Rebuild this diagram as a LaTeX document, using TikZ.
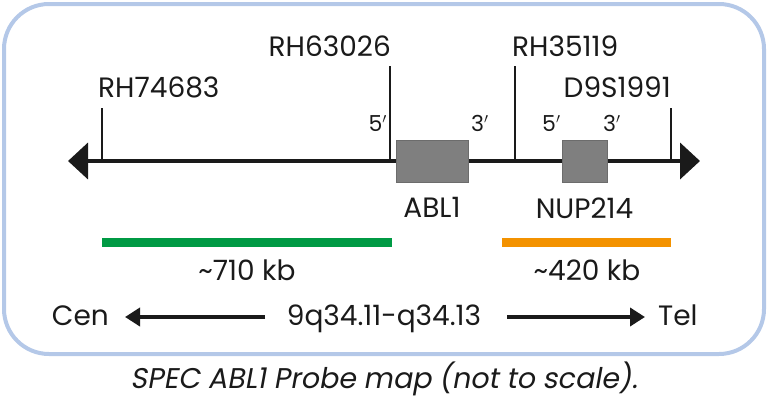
\documentclass[tikz,border=0pt]{standalone}
\usepackage{fontspec}
\setmainfont{Poppins}
\newfontfamily\capfont[FakeSlant=0.18]{Poppins}
\usetikzlibrary{arrows.meta,positioning}
\definecolor{frameblue}{HTML}{B4C8E8}
\definecolor{probegreen}{HTML}{009A44}
\definecolor{probeorange}{HTML}{F39200}
\definecolor{genegrey}{HTML}{7F7F7F}
\definecolor{ink}{HTML}{1A1A1A}

\begin{document}
\begin{tikzpicture}[x=1pt,y=-1pt,every node/.style={text=ink,inner sep=0pt},
  marker/.style={font=\fontsize{28}{28}\selectfont},
  prime/.style={font=\fontsize{22}{22}\selectfont},
  tick/.style={draw=ink,line width=2pt},
  gene/.style={draw=genegrey!85!black,fill=genegrey,minimum height=42pt},
  probe/.style={line width=9pt},
  axis/.style={draw=ink,line width=4pt,{Triangle[length=20pt,width=36pt]}-{Triangle[length=20pt,width=36pt]}},
  dirarrow/.style={draw=ink,line width=4pt,-{Triangle[length=15pt,width=18pt]}}]

\useasboundingbox (0,0) rectangle (768,402);
\draw[frameblue,line width=4pt,rounded corners=45pt] (4,4) rectangle (764,354);

% chromosome axis
\coordinate (cen) at (68,161);
\coordinate (tel) at (700,161);
\draw[axis] (cen) -- (tel);

% markers and their ticks
\node[marker,anchor=base west] (rh74683) at (98,97) {RH74683};
\node[marker,anchor=base east] (rh63026) at (391,56) {RH63026};
\node[marker,anchor=base west] (rh35119) at (512,56) {RH35119};
\node[marker,anchor=base east] (d9s1991) at (671,97) {D9S1991};
\coordinate (m1) at (102,108);
\coordinate (m2) at (390,66);
\coordinate (m3) at (515,66);
\coordinate (m4) at (671,108);
\foreach \m in {m1,m2,m3,m4}
  \draw[tick] (\m) -- (\m |- cen);

% genes
\node[gene,minimum width=72pt] (abl1) at (432,161) {};
\node[gene,minimum width=45pt] (nup214) at (584.5,161) {};
\node[marker,below=15pt of abl1] (abl1 name) {ABL1};
\node[marker,below=15pt of nup214] (nup214 name) {NUP214};
\node[prime,anchor=base east] (abl1 5) at (387,131) {5$'$};
\node[prime,anchor=base west] (abl1 3) at (471,131) {3$'$};
\node[prime,anchor=base west] (nup214 5) at (542,131) {5$'$};
\node[prime,anchor=base west] (nup214 3) at (603,131) {3$'$};

% probes
\coordinate (g1) at (102,242);
\coordinate (g2) at (392,242);
\coordinate (o1) at (502,242);
\coordinate (o2) at (671,242);
\draw[probe,probegreen] (g1) -- (g2);
\draw[probe,probeorange] (o1) -- (o2);
\node[marker,anchor=base] (green size) at (247,280) {\textasciitilde710 kb};
\node[marker,anchor=base] (orange size) at (587,280) {\textasciitilde420 kb};

% orientation
\node[marker,anchor=base east] (cen name) at (109,325) {Cen};
\node[marker,anchor=base] (band) at (384,325) {9q34.11-q34.13};
\node[marker,anchor=base west] (tel name) at (658,325) {Tel};
\coordinate (l1) at (265,317);
\coordinate (l2) at (125,317);
\coordinate (r1) at (507,317);
\coordinate (r2) at (645,317);
\draw[dirarrow] (l1) -- (l2);
\draw[dirarrow] (r1) -- (r2);

\node[anchor=base,font=\capfont\fontsize{28.5}{28.5}\selectfont] (caption) at (384,388) {SPEC ABL1 Probe map (not to scale).};
\end{tikzpicture}
\end{document}
